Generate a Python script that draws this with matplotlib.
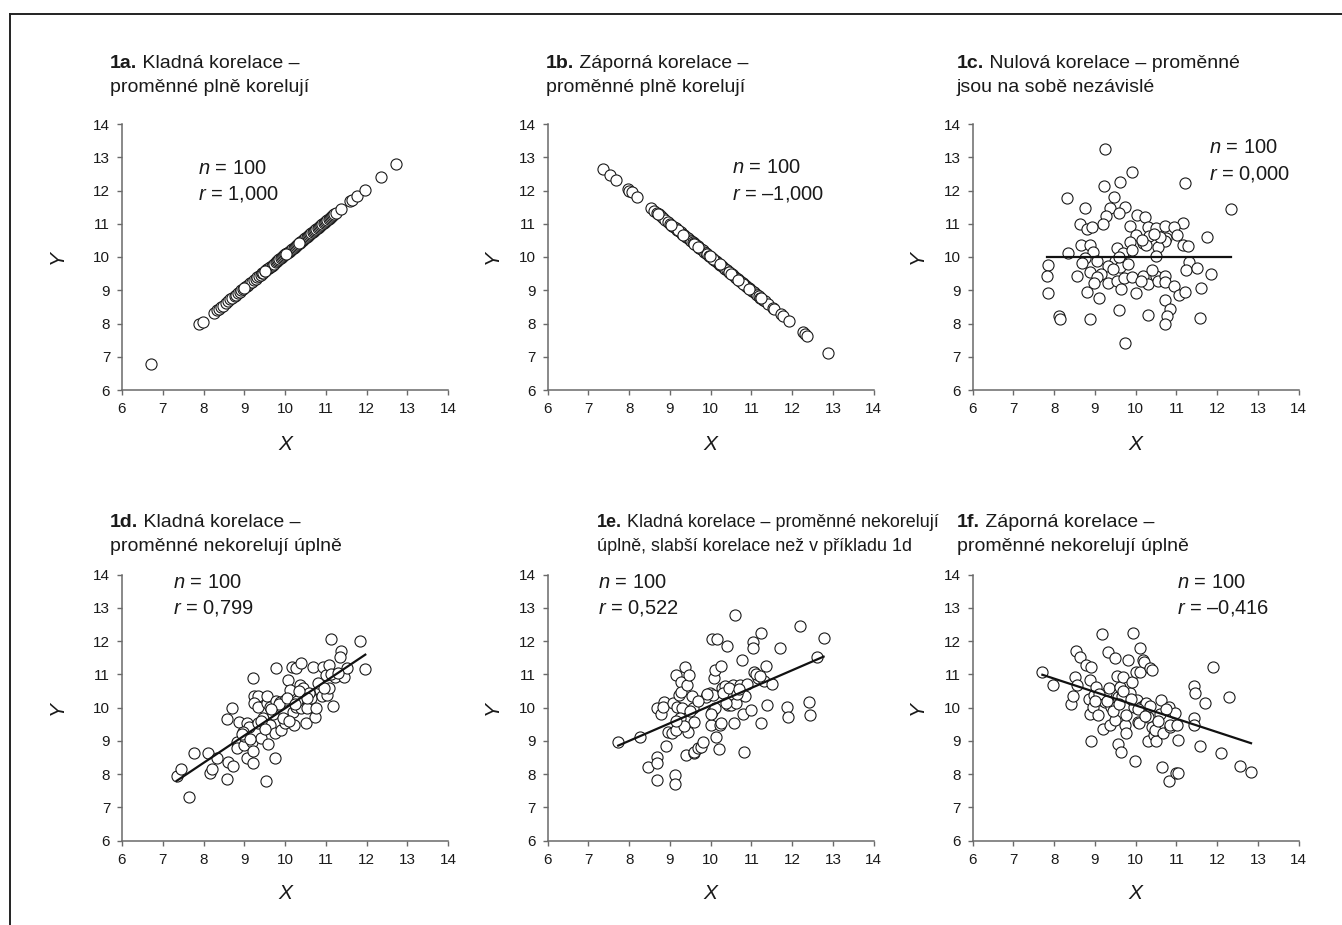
"""Six scatter panels illustrating positive, negative and zero correlation."""
import matplotlib
matplotlib.use("Agg")
import matplotlib.pyplot as plt
from matplotlib.lines import Line2D

plt.rcParams["font.family"] = ["Liberation Sans", "DejaVu Sans"]
plt.rcParams["mathtext.fontset"] = "custom"
plt.rcParams["mathtext.rm"] = "Liberation Sans"
plt.rcParams["mathtext.it"] = "Liberation Sans:italic"
plt.rcParams["mathtext.bf"] = "Liberation Sans:bold"

# --- 1a: perfect positive correlation
a_x = [6.71, 7.90, 7.98, 8.26, 8.33, 8.38, 8.42, 8.47, 8.55, 8.60,
       8.66, 8.71, 8.77, 8.80, 8.85, 8.89, 8.93, 8.97, 9.02, 9.06,
       9.10, 9.14, 9.19, 9.24, 9.28, 9.32, 9.37, 9.40, 9.44, 9.46,
       9.50, 9.53, 9.57, 9.60, 9.63, 9.67, 9.70, 9.73, 9.77, 9.80,
       9.83, 9.86, 9.89, 9.92, 9.95, 9.98, 10.01, 10.04, 10.06, 10.09,
       10.12, 10.15, 10.18, 10.21, 10.24, 10.27, 10.30, 10.32, 10.36, 10.38,
       10.41, 10.44, 10.47, 10.50, 10.53, 10.56, 10.59, 10.62, 10.65, 10.68,
       10.71, 10.74, 10.77, 10.80, 10.83, 10.86, 10.89, 10.92, 10.95, 10.98,
       11.01, 11.04, 11.07, 11.10, 11.13, 11.16, 11.18, 11.21, 11.24, 11.37,
       11.60, 11.65, 11.77, 11.96, 12.35, 12.72, 9.00, 9.52, 10.02, 10.34]
a_y = [6.78, 7.97, 8.05, 8.33, 8.40, 8.45, 8.49, 8.54, 8.62, 8.67,
       8.73, 8.78, 8.84, 8.87, 8.92, 8.96, 9.00, 9.04, 9.09, 9.13,
       9.17, 9.21, 9.26, 9.31, 9.35, 9.39, 9.44, 9.47, 9.51, 9.53,
       9.57, 9.60, 9.64, 9.67, 9.70, 9.74, 9.77, 9.80, 9.84, 9.87,
       9.90, 9.93, 9.96, 9.99, 10.02, 10.05, 10.08, 10.11, 10.13, 10.16,
       10.19, 10.22, 10.25, 10.28, 10.31, 10.34, 10.37, 10.39, 10.43, 10.45,
       10.48, 10.51, 10.54, 10.57, 10.60, 10.63, 10.66, 10.69, 10.72, 10.75,
       10.78, 10.81, 10.84, 10.87, 10.90, 10.93, 10.96, 10.99, 11.02, 11.05,
       11.08, 11.11, 11.14, 11.17, 11.20, 11.23, 11.25, 11.28, 11.31, 11.44,
       11.67, 11.72, 11.84, 12.03, 12.42, 12.79, 9.07, 9.59, 10.09, 10.41]

# --- 1b: perfect negative correlation
b_x = [7.36, 7.53, 7.67, 7.96, 8.00, 8.06, 8.20, 8.53, 8.62, 8.67,
       8.72, 8.78, 8.84, 8.88, 8.94, 9.00, 9.06, 9.10, 9.14, 9.18,
       9.22, 9.26, 9.30, 9.35, 9.40, 9.44, 9.48, 9.52, 9.56, 9.59,
       9.62, 9.65, 9.68, 9.72, 9.76, 9.80, 9.84, 9.88, 9.92, 9.96,
       10.00, 10.03, 10.06, 10.09, 10.12, 10.16, 10.20, 10.24, 10.28, 10.32,
       10.36, 10.40, 10.44, 10.48, 10.52, 10.55, 10.59, 10.63, 10.67, 10.71,
       10.75, 10.79, 10.83, 10.87, 10.90, 10.93, 10.97, 11.02, 11.06, 11.10,
       11.14, 11.18, 11.22, 11.28, 11.33, 11.40, 11.53, 11.56, 11.72, 11.77,
       11.93, 12.26, 12.31, 12.37, 12.88, 9.20, 9.60, 10.05, 10.45, 10.80,
       8.70, 9.03, 9.33, 9.70, 9.98, 10.22, 10.50, 10.68, 10.95, 11.24]
b_y = [12.64, 12.47, 12.33, 12.04, 12.00, 11.94, 11.80, 11.47, 11.38, 11.33,
       11.28, 11.22, 11.16, 11.12, 11.06, 11.00, 10.94, 10.90, 10.86, 10.82,
       10.78, 10.74, 10.70, 10.65, 10.60, 10.56, 10.52, 10.48, 10.44, 10.41,
       10.38, 10.35, 10.32, 10.28, 10.24, 10.20, 10.16, 10.12, 10.08, 10.04,
       10.00, 9.97, 9.94, 9.91, 9.88, 9.84, 9.80, 9.76, 9.72, 9.68,
       9.64, 9.60, 9.56, 9.52, 9.48, 9.45, 9.41, 9.37, 9.33, 9.29,
       9.25, 9.21, 9.17, 9.13, 9.10, 9.07, 9.03, 8.98, 8.94, 8.90,
       8.86, 8.82, 8.78, 8.72, 8.67, 8.60, 8.47, 8.44, 8.28, 8.23,
       8.07, 7.74, 7.69, 7.63, 7.12, 10.80, 10.40, 9.95, 9.55, 9.20,
       11.30, 10.97, 10.67, 10.30, 10.02, 9.78, 9.50, 9.32, 9.05, 8.76]

# --- 1c: no correlation
c_x = [9.24, 9.92, 9.21, 9.62, 11.22, 8.31, 9.46, 8.75, 9.37, 9.73,
       9.58, 12.34, 9.28, 9.19, 8.63, 8.81, 8.93, 10.03, 10.22, 9.85,
       10.30, 10.49, 10.71, 11.16, 10.93, 10.00, 10.32, 10.75, 11.02, 10.72,
       10.18, 10.26, 9.85, 8.65, 8.87, 11.16, 11.28, 11.75, 10.55, 9.53,
       8.33, 8.96, 9.69, 10.51, 8.75, 8.67, 9.49, 9.32, 9.61, 9.80,
       11.31, 7.84, 7.83, 7.85, 8.55, 8.89, 9.14, 9.04, 8.98, 9.32,
       9.55, 9.71, 9.91, 9.65, 10.18, 10.30, 10.14, 10.51, 10.55, 10.71,
       10.73, 11.24, 11.51, 11.86, 10.94, 11.06, 11.20, 11.61, 10.00, 8.81,
       9.10, 10.73, 10.83, 9.58, 8.11, 8.15, 8.87, 10.30, 10.77, 10.73,
       11.57, 9.73, 9.04, 9.60, 10.40, 10.60, 9.90, 10.15, 9.45, 10.45]
c_y = [13.24, 12.56, 12.14, 12.27, 12.24, 11.78, 11.81, 11.46, 11.46, 11.51,
       11.33, 11.43, 11.23, 11.00, 11.00, 10.84, 10.91, 11.26, 11.19, 10.93,
       10.91, 10.86, 10.93, 11.01, 10.89, 10.66, 10.63, 10.56, 10.66, 10.49,
       10.41, 10.36, 10.46, 10.36, 10.36, 10.36, 10.33, 10.59, 10.29, 10.26,
       10.13, 10.16, 10.11, 10.03, 9.96, 9.81, 9.89, 9.74, 9.71, 9.78,
       9.86, 9.75, 9.43, 8.93, 9.43, 9.54, 9.49, 9.39, 9.21, 9.21,
       9.28, 9.36, 9.39, 9.04, 9.43, 9.18, 9.29, 9.43, 9.29, 9.44,
       9.26, 9.61, 9.66, 9.49, 9.14, 8.86, 8.96, 9.06, 8.91, 8.96,
       8.76, 8.71, 8.44, 8.41, 8.23, 8.13, 8.13, 8.26, 8.23, 7.98,
       8.16, 7.42, 9.89, 10.00, 9.60, 10.60, 10.20, 10.50, 9.65, 10.70]

# --- 1d: strong positive correlation
d_x = [7.34, 7.45, 7.65, 7.77, 8.12, 8.32, 8.17, 8.21, 8.58, 8.61,
       8.73, 8.58, 8.71, 8.88, 8.81, 8.81, 8.99, 9.06, 9.06, 9.12,
       8.97, 9.18, 9.22, 9.22, 9.22, 9.24, 9.34, 9.24, 9.34, 9.34,
       9.42, 9.46, 9.55, 9.56, 9.64, 9.58, 9.53, 9.64, 9.75, 9.75,
       9.79, 9.77, 9.87, 9.91, 9.99, 9.99, 10.08, 10.16, 10.16, 10.12,
       10.20, 10.22, 10.26, 10.28, 10.36, 10.40, 10.40, 10.53, 10.51, 10.65,
       10.69, 10.73, 10.76, 10.85, 10.90, 10.93, 11.00, 11.04, 11.08, 11.08,
       11.14, 11.19, 11.22, 11.38, 11.36, 11.44, 11.52, 11.83, 11.97, 9.00,
       9.40, 9.70, 9.85, 10.05, 10.30, 10.45, 10.60, 10.80, 11.12, 9.50,
       8.95, 9.15, 9.95, 10.10, 10.35, 10.55, 10.95, 11.30, 9.65, 10.25]
d_y = [7.94, 8.16, 7.30, 8.63, 8.65, 8.50, 8.03, 8.15, 7.87, 8.38,
       8.25, 9.66, 10.00, 9.58, 8.98, 8.78, 8.88, 8.48, 9.53, 9.43,
       9.28, 8.98, 8.71, 8.33, 10.88, 10.35, 10.35, 10.13, 10.03, 9.53,
       9.08, 9.68, 10.15, 10.35, 10.03, 8.91, 7.80, 9.48, 9.23, 8.48,
       11.18, 10.21, 10.18, 9.33, 10.23, 9.53, 10.83, 10.43, 11.23, 10.53,
       9.88, 9.48, 11.18, 10.03, 10.68, 11.35, 9.98, 9.98, 9.55, 10.28,
       11.23, 9.71, 10.00, 10.53, 10.35, 11.23, 10.98, 10.38, 10.58, 11.28,
       12.07, 10.05, 10.93, 11.72, 11.53, 10.93, 11.18, 12.00, 11.15, 9.15,
       9.60, 9.80, 10.10, 10.30, 10.20, 10.60, 10.45, 10.75, 11.00, 9.35,
       9.20, 9.05, 9.70, 9.60, 10.50, 10.30, 10.60, 11.05, 9.95, 10.10]

# --- 1e: weaker positive correlation
e_x = [7.73, 8.26, 8.45, 8.69, 8.67, 8.69, 8.69, 8.78, 8.85, 8.84,
       8.91, 8.96, 9.04, 9.08, 9.12, 9.12, 9.16, 9.16, 9.18, 9.22,
       9.27, 9.28, 9.30, 9.36, 9.40, 9.43, 9.44, 9.47, 9.53, 9.57,
       9.58, 9.59, 9.60, 9.69, 9.77, 9.81, 9.89, 9.98, 10.02, 10.00,
       10.04, 10.06, 10.08, 10.11, 10.12, 10.16, 10.20, 10.24, 10.26, 10.26,
       10.28, 10.34, 10.41, 10.42, 10.49, 10.51, 10.55, 10.57, 10.60, 10.63,
       10.71, 10.77, 10.81, 10.83, 10.79, 10.99, 11.03, 11.03, 11.06, 11.16,
       11.24, 11.24, 11.31, 11.36, 11.39, 11.50, 11.69, 11.88, 11.89, 12.20,
       12.42, 12.43, 12.61, 12.77, 9.25, 9.50, 9.70, 9.90, 10.10, 10.30,
       10.45, 10.65, 10.90, 11.10, 9.35, 10.00, 10.38, 10.70, 11.20, 9.15]
e_y = [8.96, 9.11, 8.21, 8.53, 8.33, 7.84, 10.00, 9.81, 10.18, 10.03,
       8.85, 9.28, 9.23, 10.13, 7.97, 7.72, 10.98, 9.33, 10.03, 10.38,
       10.76, 10.48, 9.98, 11.23, 8.58, 10.68, 9.28, 10.98, 10.35, 10.00,
       8.65, 9.58, 8.68, 8.78, 8.83, 8.98, 10.33, 10.43, 12.07, 9.48,
       9.88, 10.38, 10.88, 11.13, 9.11, 12.07, 8.75, 9.48, 11.25, 9.55,
       10.58, 10.65, 11.85, 10.08, 10.33, 10.08, 10.68, 9.53, 12.79, 10.13,
       10.68, 11.43, 8.68, 10.35, 9.81, 9.93, 11.99, 11.81, 11.08, 10.88,
       12.24, 9.53, 10.81, 11.25, 10.08, 10.71, 11.81, 10.03, 9.71, 12.46,
       10.18, 9.78, 11.51, 12.09, 9.70, 9.90, 10.20, 10.40, 10.00, 10.45,
       10.60, 10.40, 10.70, 11.00, 9.45, 9.80, 10.15, 10.55, 10.95, 9.60]

# --- 1f: moderate negative correlation
f_x = [7.71, 7.96, 8.40, 8.47, 8.52, 8.53, 8.55, 8.63, 8.78, 8.90,
       8.87, 8.86, 8.87, 8.91, 8.96, 8.97, 9.02, 9.08, 9.16, 9.18,
       9.20, 9.24, 9.28, 9.32, 9.35, 9.36, 9.40, 9.49, 9.53, 9.49,
       9.57, 9.57, 9.61, 9.65, 9.67, 9.69, 9.73, 9.76, 9.77, 9.81,
       9.85, 9.92, 9.93, 9.95, 9.99, 10.00, 10.02, 10.06, 10.08, 10.10,
       10.10, 10.14, 10.18, 10.20, 10.24, 10.26, 10.29, 10.30, 10.34, 10.41,
       10.41, 10.44, 10.49, 10.47, 10.59, 10.61, 10.64, 10.68, 10.81, 10.83,
       10.82, 10.85, 10.97, 10.98, 11.04, 11.02, 11.04, 11.42, 11.45, 11.42,
       11.42, 11.57, 11.71, 11.89, 12.10, 12.29, 12.57, 12.83, 9.10, 9.30,
       9.45, 9.60, 9.70, 9.88, 10.05, 10.22, 10.35, 10.55, 10.75, 9.00]
f_y = [11.06, 10.68, 10.10, 10.35, 10.93, 11.70, 10.68, 11.53, 11.28, 11.21,
       10.83, 10.25, 9.81, 9.01, 10.03, 10.38, 10.63, 9.78, 10.23, 12.22,
       9.36, 10.18, 10.43, 11.68, 10.58, 9.48, 10.03, 11.50, 10.95, 9.63,
       10.33, 8.91, 10.63, 8.68, 10.35, 10.93, 9.48, 9.78, 9.23, 11.43,
       10.45, 10.78, 12.26, 10.03, 8.41, 11.08, 10.23, 9.58, 9.53, 11.81,
       11.08, 10.03, 11.43, 11.38, 10.11, 10.13, 9.01, 9.71, 11.18, 11.13,
       9.43, 9.18, 9.01, 9.33, 9.81, 10.23, 8.21, 9.23, 10.01, 9.43,
       7.80, 9.48, 9.83, 8.05, 8.05, 9.48, 9.03, 10.65, 10.45, 9.68,
       9.48, 8.85, 10.15, 11.21, 8.65, 10.31, 8.25, 8.08, 10.40, 10.20,
       9.90, 10.10, 10.50, 10.25, 9.95, 9.75, 10.05, 9.60, 9.95, 10.20]

# regression lines (slope, intercept); None = no line drawn
fit_lines = [None, None, (0.0, 10.0), (0.82, 1.78), (0.531, 4.755), (-0.402, 14.09)]

r_labels = ["1,000", "\u20131,000", "0,000", "0,799", "0,522", "\u20130,416"]
n_points = 100

titles = [
    ("1a.", "Kladná korelace –", "proměnné plně korelují"),
    ("1b.", "Záporná korelace –", "proměnné plně korelují"),
    ("1c.", "Nulová korelace – proměnné", "jsou na sobě nezávislé"),
    ("1d.", "Kladná korelace –", "proměnné nekorelují úplně"),
    ("1e.", "Kladná korelace – proměnné nekorelují", "úplně, slabší korelace než v příkladu 1d"),
    ("1f.", "Záporná korelace –", "proměnné nekorelují úplně"),
]

series = [(a_x, a_y), (b_x, b_y), (c_x, c_y), (d_x, d_y), (e_x, e_y), (f_x, f_y)]

W, H = 1342, 925
fig = plt.figure(figsize=(W / 100, H / 100), dpi=100)

# pixel layout of each panel: axes left, axes bottom (from top), title x, title baseline
ax_left = [122, 547.7, 972.7]
ax_bottom = [390, 840.7]
title_x = [[110, 545.5, 957], [110, 597, 957]]
title_base = [68, 527]
title_size = [14, 14, 14, 14, 12.9, 14]
ax_w, ax_h = 326, 266
# n/r text anchors in axes fractions (x, baseline of n line, baseline of r line)
note_pos = [(0.233, 0.812, 0.717), (0.564, 0.815, 0.717), (0.726, 0.892, 0.792),
            (0.155, 0.949, 0.855), (0.153, 0.949, 0.855), (0.626, 0.949, 0.855)]
ylab_x = [-0.199, -0.171, -0.171]
xlab_y = [-0.205, -0.197]

spine_col = "#6a6a6a"
text_col = "#1a1a1a"

for i, (xs, ys) in enumerate(series):
    row, col = divmod(i, 3)
    ax = fig.add_axes([ax_left[col] / W, (H - ax_bottom[row]) / H, ax_w / W, ax_h / H])
    ax.scatter(xs, ys, s=64, facecolor="white", edgecolor="#1a1a1a", linewidth=0.8, zorder=2)
    if fit_lines[i] is not None:
        k, q = fit_lines[i]
        x0, x1 = min(xs), max(xs)
        ax.plot([x0, x1], [k * x0 + q, k * x1 + q], color="#111111", lw=1.6, zorder=3)

    ax.set_xlim(6, 14)
    ax.set_ylim(6, 14)
    ax.set_xticks(range(6, 15))
    ax.set_yticks(range(6, 15))
    for s in ("top", "right"):
        ax.spines[s].set_visible(False)
    for s in ("left", "bottom"):
        ax.spines[s].set_color(spine_col)
        ax.spines[s].set_linewidth(1.1)
    ax.tick_params(direction="out", length=3.5, width=1.0, color=spine_col,
                   labelsize=11, labelcolor=text_col, pad=5)
    ax.set_facecolor("none")

    ax.set_xlabel("X", fontsize=15, style="italic", color=text_col)
    ax.xaxis.set_label_coords(0.5, xlab_y[row])
    ax.xaxis.label.set_va("center")
    ax.set_ylabel("Y", fontsize=15, style="italic", color=text_col)
    ax.yaxis.set_label_coords(ylab_x[col], 0.5)
    ax.yaxis.label.set_va("center")

    nx, ny, ry = note_pos[i]
    ax.text(nx, ny, f"$\\mathit{{n}}$ = {n_points}", transform=ax.transAxes,
            fontsize=14.5, color=text_col, va="baseline")
    ax.text(nx, ry, f"$\\mathit{{r}}$ = {r_labels[i]}", transform=ax.transAxes,
            fontsize=14.5, color=text_col, va="baseline")

    # two-line panel heading: bold tag, then plain text continuing after it
    tag, line1, line2 = titles[i]
    fs = title_size[i]
    tx = title_x[row][col] / W
    ty1 = 1 - title_base[row] / H
    ty2 = 1 - (title_base[row] + 24) / H
    t = fig.text(tx, ty1, tag, fontsize=fs, fontweight="bold", color=text_col, va="baseline")
    ax.annotate(" " + line1, xy=(1, 0), xycoords=t, va="bottom", ha="left",
                fontsize=fs, color=text_col, annotation_clip=False)
    fig.text(tx, ty2, line2, fontsize=fs, color=text_col, va="baseline")

# open frame: left and top border lines
fx = 9.5 / W
fy = 1 - 13.5 / H
fig.add_artist(Line2D([fx, fx], [0, fy], transform=fig.transFigure, color="#222222", lw=1.4))
fig.add_artist(Line2D([fx, 1], [fy, fy], transform=fig.transFigure, color="#222222", lw=1.4))

fig.savefig("out.png", dpi=100)
